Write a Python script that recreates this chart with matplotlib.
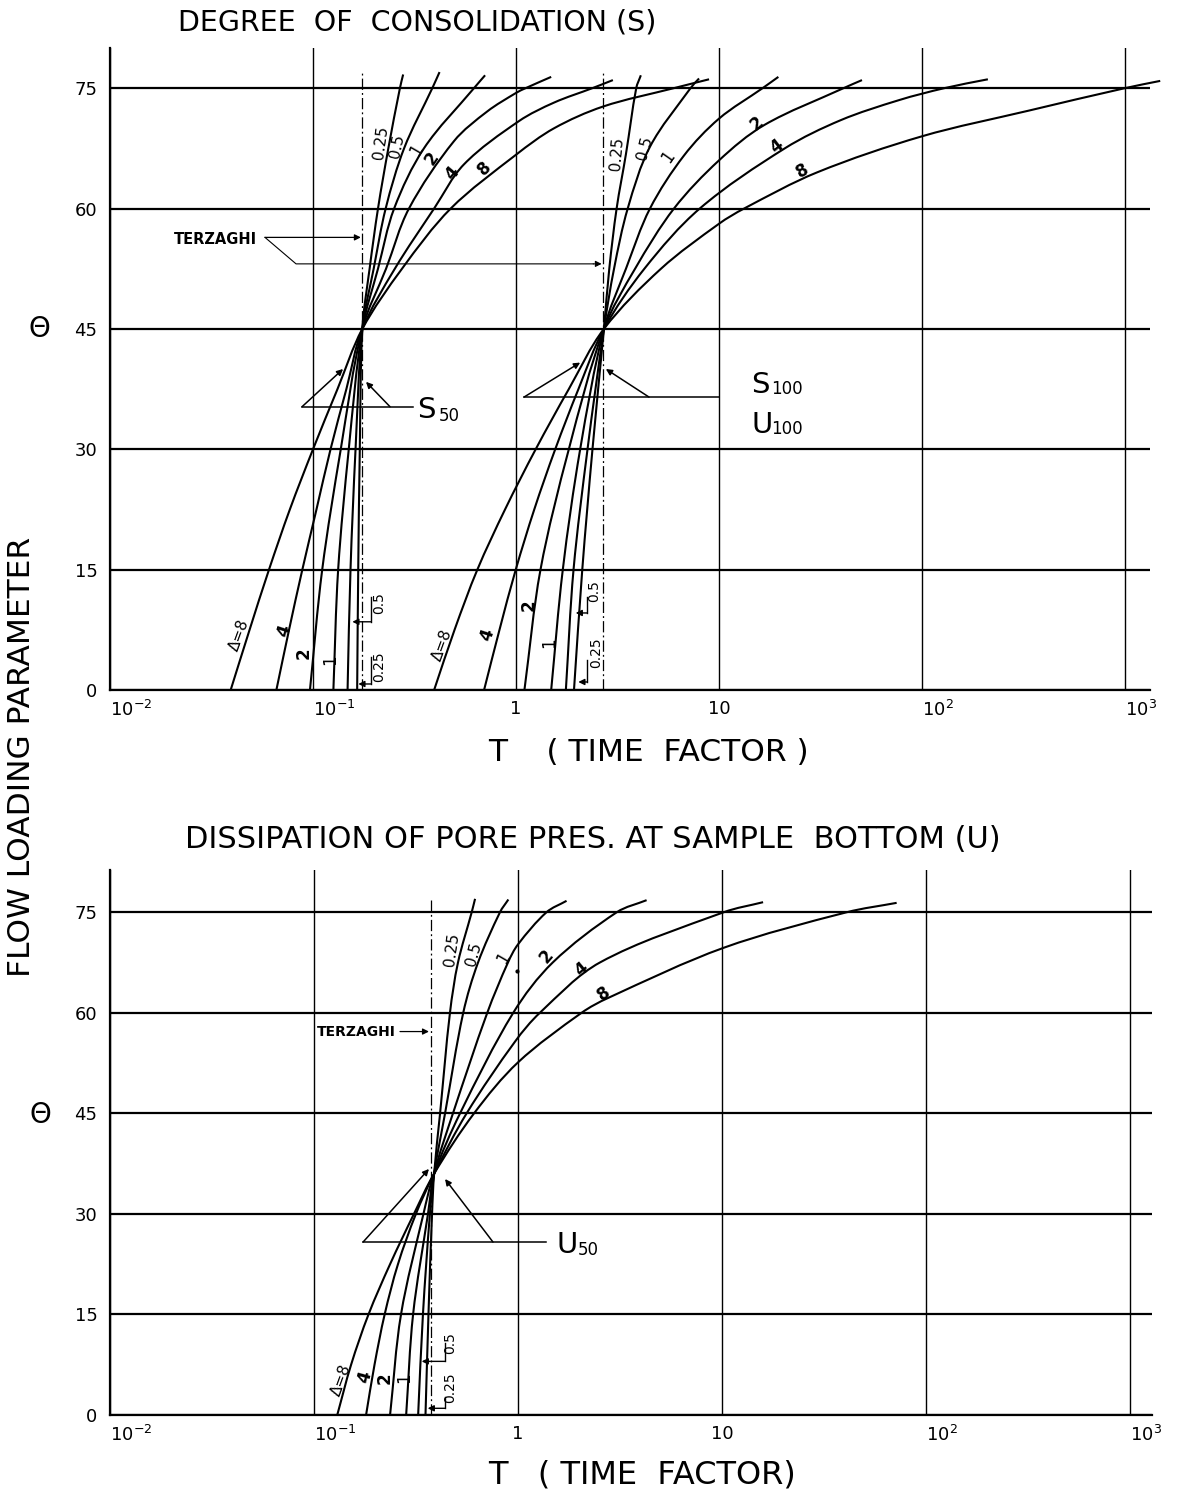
import matplotlib
matplotlib.use("Agg")
import numpy as np
import matplotlib.pyplot as plt
from matplotlib.path import Path
from matplotlib.patches import PathPatch
from matplotlib.ticker import NullLocator

plt.rcParams["font.family"] = ["DejaVu Sans"]
plt.rcParams["mathtext.fontset"] = "dejavusans"

deltas = ["0.25", "0.5", "1", "2", "4", "8"]

# degree of consolidation, family through S50 (theta vs time factor T)
s50_theta = [
    [0, 15, 30, 45, 52.5, 60, 67.5, 75, 76.7],
    [0, 15, 30, 45, 52.5, 60, 67.5, 75, 77.0],
    [0, 15, 30, 45, 52.5, 60, 67.5, 75, 76.6],
    [0, 15, 30, 45, 52.5, 60, 68.4, 72.1, 74.4, 75, 76.4],
    [0, 7.5, 15, 22.5, 30, 37.5, 45, 52.5, 60, 65.5, 70.9, 73.2, 75, 76.0],
    [0, 7.5, 15, 22.5, 30, 37.5, 45, 52.5, 60, 66.7, 70, 72.7, 75, 76.1],
]
s50_time = [
    [0.165, 0.167, 0.170, 0.175, 0.190, 0.209, 0.235, 0.268, 0.278],
    [0.148, 0.153, 0.162, 0.175, 0.199, 0.228, 0.281, 0.387, 0.420],
    [0.126, 0.133, 0.150, 0.175, 0.209, 0.251, 0.352, 0.621, 0.704],
    [0.0966, 0.111, 0.137, 0.175, 0.229, 0.297, 0.495, 0.722, 1.0, 1.116, 1.49],
    [0.0660, 0.0762, 0.0886, 0.104, 0.122, 0.146, 0.175, 0.253, 0.395, 0.554, 1.035, 1.54, 2.38, 3.0],
    [0.0393, 0.0487, 0.0607, 0.0769, 0.100, 0.132, 0.175, 0.2745, 0.477, 1.0, 1.54, 2.68, 6.0, 8.93],
]
s50_terzaghi = 0.175

# family through S100 / U100
s100_theta = [
    [0, 15, 30, 45, 52.5, 60, 66.8, 75, 76.6],
    [0, 15, 30, 45, 52.5, 60, 67.7, 75, 76.2],
    [0, 15, 30, 45, 52.5, 60, 66.6, 71.2, 75, 76.4],
    [0, 15, 30, 45, 52.5, 60, 66.0, 70.4, 75, 76.0],
    [0, 7.5, 15, 22.5, 30, 37.5, 45, 52.5, 60, 67.5, 71, 73.5, 75, 76.1],
    [0, 7.5, 15, 22.5, 30, 37.5, 45, 52.5, 58.1, 60, 64.5, 69, 72.2, 75, 75.9],
]
s100_time = [
    [1.93, 2.12, 2.38, 2.71, 2.88, 3.13, 3.48, 3.91, 4.12],
    [1.76, 1.92, 2.25, 2.71, 3.04, 3.55, 4.57, 7.24, 7.97],
    [1.49, 1.70, 2.07, 2.71, 3.48, 4.57, 6.72, 10.0, 16.4, 19.6],
    [1.10, 1.32, 1.82, 2.71, 3.86, 6.00, 10.0, 16.7, 41.1, 50.6],
    [0.696, 0.829, 0.997, 1.23, 1.56, 2.03, 2.71, 4.29, 8.04, 21.1, 39.7, 76.9, 129, 211],
    [0.395, 0.498, 0.645, 0.883, 1.25, 1.82, 2.71, 5.18, 10.0, 13.3, 30.4, 100, 336, 1000, 1490],
]
s100_terzaghi = 2.69

# pore pressure dissipation at sample bottom, family through U50
u50_theta = [
    [0, 15, 30, 36, 45, 60, 67.5, 75, 77],
    [0, 15, 30, 36, 45, 60, 67.5, 75, 76.9],
    [0, 15, 30, 36, 45, 60, 67.5, 70.2, 75, 76.7],
    [0, 15, 30, 36, 45, 60, 67.5, 75, 76.8],
    [0, 7.5, 15, 22.5, 30, 36, 45, 55.7, 60, 67.5, 75, 76.5],
    [0, 7.5, 15, 22.5, 30, 36, 45, 52.6, 60, 62.2, 69.7, 75, 76.4],
]
u50_time = [
    [0.352, 0.364, 0.379, 0.388, 0.415, 0.464, 0.508, 0.593, 0.616],
    [0.324, 0.342, 0.370, 0.388, 0.439, 0.539, 0.637, 0.816, 0.897],
    [0.283, 0.306, 0.362, 0.388, 0.480, 0.707, 0.893, 1.0, 1.38, 1.73],
    [0.236, 0.267, 0.344, 0.388, 0.520, 0.948, 1.48, 3.05, 4.27],
    [0.180, 0.198, 0.222, 0.258, 0.316, 0.388, 0.560, 0.967, 1.28, 2.52, 10.2, 15.9],
    [0.130, 0.152, 0.185, 0.236, 0.309, 0.388, 0.609, 1.0, 2.05, 2.76, 10.2, 40.9, 71.8],
]
u50_terzaghi = 0.375

x_ticks = [0.01, 0.1, 1, 10, 100, 1000]
x_tick_labels = [r"$10^{-2}$", r"$10^{-1}$", "1", "10", r"$10^{2}$", r"$10^{3}$"]
y_ticks = [0, 15, 30, 45, 60, 75]

W, H = 1177, 1495
fig = plt.figure(figsize=(W / 100, H / 100), dpi=100)


def box(left, right, top, bottom):
    return [left / W, 1 - bottom / H, (right - left) / W, (bottom - top) / H]


def setup(ax, xmax, ymax):
    ax.set_xscale("log")
    ax.set_xlim(0.01, xmax)
    ax.set_ylim(0, ymax)
    ax.set_xticks(x_ticks)
    ax.set_xticklabels(x_tick_labels)
    ax.xaxis.set_minor_locator(NullLocator())
    ax.set_yticks(y_ticks)
    ax.tick_params(axis="both", length=0, labelsize=13)
    ax.tick_params(axis="y", pad=9)
    ax.tick_params(axis="x", pad=7)
    for lbl, txt in zip(ax.get_xticklabels(), x_tick_labels):
        if txt.startswith("$"):
            lbl.set_horizontalalignment("left")
    ax.xaxis.grid(True, color="k", lw=1.0)
    ax.yaxis.grid(True, color="k", lw=1.6)
    ax.set_axisbelow(True)
    for side in ("top", "right"):
        ax.spines[side].set_visible(False)
    for side in ("left", "bottom"):
        ax.spines[side].set_linewidth(1.6)


def curve_path(times, thetas, aspect):
    # smooth cubic path through the points, built in log-T space
    p = np.column_stack([np.log10(times) * aspect, np.asarray(thetas, float)])
    n = len(p)
    d = np.hypot(*(p[1:] - p[:-1]).T)
    tan = np.empty_like(p)
    tan[0] = (p[1] - p[0]) / d[0]
    tan[-1] = (p[-1] - p[-2]) / d[-1]
    for i in range(1, n - 1):
        tan[i] = (p[i + 1] - p[i - 1]) / (d[i - 1] + d[i])
    verts = [p[0]]
    for i in range(n - 1):
        verts += [p[i] + tan[i] * d[i] / 3, p[i + 1] - tan[i + 1] * d[i] / 3, p[i + 1]]
    verts = np.array(verts)
    verts[:, 0] = 10 ** (verts[:, 0] / aspect)
    return Path(verts, [Path.MOVETO] + [Path.CURVE4] * (3 * (n - 1)))


def draw_family(ax, thetas, times, t_terz, aspect, top=77.2):
    for th, tt in zip(thetas, times):
        ax.add_patch(PathPatch(curve_path(tt, th, aspect), fill=False,
                               ec="k", lw=1.5, clip_on=False))
    ax.plot([t_terz, t_terz], [0, top], color="k", lw=0.9,
            ls=(0, (9, 2.5, 1.5, 2.5)))


def arrow(ax, start, end, lw=1.1):
    ax.annotate("", xy=end, xytext=start,
                arrowprops=dict(arrowstyle="-|>", color="k", lw=lw,
                                mutation_scale=9, shrinkA=0, shrinkB=0))


def pointer(ax, left, up_tip, right, right_tip, t_end):
    ax.plot([left[0], t_end], [left[1], left[1]], color="k", lw=1.1)
    arrow(ax, left, up_tip)
    arrow(ax, right, right_tip)


def labels(ax, items):
    for txt, t, th, rot in items:
        single = len(txt) == 1
        ax.text(t, th, txt, rotation=rot, rotation_mode="anchor",
                ha="center", va="center", fontsize=12 if single else 11,
                fontweight="bold" if single and txt != "1" else "normal")


def bracket(ax, txt, t_line, th_top, th_bot, t_tip, t_txt, th_txt):
    ax.plot([t_line, t_line], [th_top, th_bot], color="k", lw=1.0)
    arrow(ax, (t_line, th_bot), (t_tip, th_bot), lw=1.0)
    ax.text(t_txt, th_txt, txt, rotation=90, ha="center", va="center", fontsize=10)


# ---------------- degree of consolidation ----------------
ax_s = fig.add_axes(box(110, 1150, 48, 690))
setup(ax_s, 1327, 80)
draw_family(ax_s, s50_theta, s50_time, s50_terzaghi, 25.3)
draw_family(ax_s, s100_theta, s100_time, s100_terzaghi, 25.3)

labels(ax_s, [
    ("0.25", 0.2156, 68.2, 82), ("0.5", 0.2594, 67.7, 78), ("1", 0.3217, 67.3, 60),
    ("2", 0.387, 66.3, 55), ("4", 0.4855, 64.4, 50), ("8", 0.696, 65.0, 45),
    ("0.25", 3.134, 66.8, 85), ("0.5", 4.29, 67.5, 75), ("1", 5.63, 66.4, 55),
    ("2", 15.4, 70.6, 40), ("4", 19.35, 67.7, 38), ("8", 25.9, 64.7, 30),
    ("Δ=8", 0.0432, 6.9, 70), ("4", 0.0720, 7.3, 72), ("2", 0.0903, 4.6, 90),
    ("1", 0.1209, 3.8, 90),
    ("Δ=8", 0.4335, 5.6, 70), ("4", 0.7223, 6.9, 72), ("2", 1.159, 10.6, 90),
    ("1", 1.454, 5.9, 90),
])
bracket(ax_s, "0.5", 0.1924, 11.6, 8.5, 0.1562, 0.2114, 10.8)
bracket(ax_s, "0.25", 0.1924, 4.1, 0.75, 0.1672, 0.2114, 2.9)
bracket(ax_s, "0.5", 2.245, 11.6, 9.6, 1.968, 2.422, 12.3)
bracket(ax_s, "0.25", 2.245, 3.7, 1.0, 2.027, 2.47, 4.6)

pointer(ax_s, (0.0883, 35.3), (0.1406, 40.0), (0.2395, 35.3), (0.1824, 38.4), 0.311)
ax_s.text(0.325, 34.9, "S", fontsize=21, va="center", ha="left")
ax_s.text(0.4175, 34.1, "50", fontsize=12, va="center", ha="left")

pointer(ax_s, (1.095, 36.5), (2.07, 40.8), (4.52, 36.5), (2.77, 40.0), 10.0)
ax_s.text(14.4, 38.0, "S", fontsize=21, va="center", ha="left")
ax_s.text(18.04, 37.5, "100", fontsize=12, va="center", ha="left")
ax_s.text(14.4, 33.0, "U", fontsize=21, va="center", ha="left")
ax_s.text(18.04, 32.5, "100", fontsize=12, va="center", ha="left")

ax_s.text(0.0207, 56.1, "TERZAGHI", fontsize=10.5, fontweight="bold", va="center", ha="left")
arrow(ax_s, (0.058, 56.4), (0.172, 56.4), lw=0.9)
ax_s.plot([0.058, 0.0825, 2.4], [56.4, 53.1, 53.1], color="k", lw=0.8)
arrow(ax_s, (2.4, 53.1), (2.64, 53.1), lw=0.8)

# ---------------- pore pressure dissipation ----------------
ax_u = fig.add_axes(box(110, 1152, 870, 1415))
setup(ax_u, 1282, 81.3)
draw_family(ax_u, u50_theta, u50_time, u50_terzaghi, 30.4, top=77.3)

labels(ax_u, [
    ("0.25", 0.4732, 69.4, 82), ("0.5", 0.6038, 68.7, 75), ("1", 0.847, 68.2, 60),
    ("2", 1.383, 68.4, 50), ("4", 2.052, 66.4, 40), ("8", 2.639, 62.9, 35),
    ("Δ=8", 0.1367, 5.2, 70), ("4", 0.1778, 5.7, 75), ("2", 0.2229, 5.5, 90),
    ("1", 0.2762, 5.5, 90),
])
ax_u.plot([0.985], [66.3], "k.", ms=4)
bracket(ax_u, "0.5", 0.4386, 10.7, 8.0, 0.3372, 0.4642, 10.7)
bracket(ax_u, "0.25", 0.4386, 2.7, 1.0, 0.3609, 0.4642, 4.0)

pointer(ax_u, (0.174, 25.8), (0.366, 36.7), (0.754, 25.8), (0.439, 35.2), 1.37)
ax_u.text(1.55, 25.4, "U", fontsize=21, va="center", ha="left")
ax_u.text(1.968, 24.6, "50", fontsize=12, va="center", ha="left")

ax_u.text(0.1034, 57.2, "TERZAGHI", fontsize=10, fontweight="bold", va="center", ha="left")
arrow(ax_u, (0.264, 57.2), (0.366, 57.2), lw=0.9)

# ---------------- figure text ----------------
fig.text(178 / W, 1 - 22 / H, "DEGREE  OF  CONSOLIDATION (S)", fontsize=20.5,
         ha="left", va="center")
fig.text(185 / W, 1 - 840 / H, "DISSIPATION OF PORE PRES. AT SAMPLE  BOTTOM (U)",
         fontsize=22, ha="left", va="center")
fig.text(488 / W, 1 - 752 / H, "T    ( TIME  FACTOR )", fontsize=22.5, ha="left", va="center")
fig.text(488 / W, 1 - 1475 / H, "T   ( TIME  FACTOR)", fontsize=23, ha="left", va="center")
fig.text(22 / W, 1 - 757 / H, "FLOW LOADING PARAMETER", fontsize=22.5, rotation=90,
         ha="center", va="center")
fig.text(39 / W, 1 - 329 / H, "Θ", fontsize=20, ha="center", va="center")
fig.text(40 / W, 1 - 1115 / H, "Θ", fontsize=20, ha="center", va="center")

fig.savefig("out.png", dpi=100, facecolor="white")
